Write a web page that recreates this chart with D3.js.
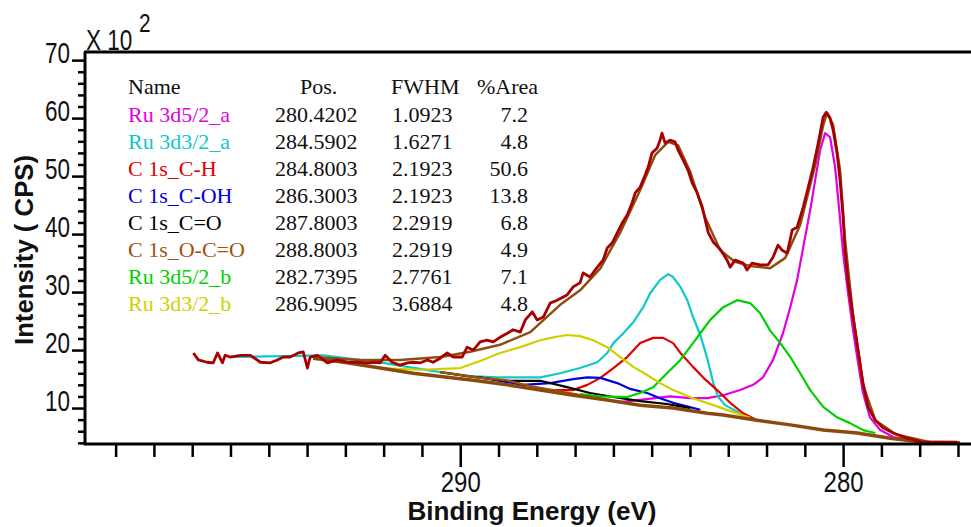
<!DOCTYPE html>
<html>
<head>
<meta charset="utf-8">
<script src="https://cdn.jsdelivr.net/npm/d3@7"></script>
<style>
  body { margin: 0; background: #fff; }
  svg { display: block; }
</style>
</head>
<body>
<script>
(function () {
  'use strict'

  // peak table
  const peakNames = ['Ru 3d5/2_a', 'Ru 3d3/2_a', 'C 1s_C-H', 'C 1s_C-OH', 'C 1s_C=O', 'C 1s_O-C=O', 'Ru 3d5/2_b', 'Ru 3d3/2_b']
  const peakPos = ['280.4202', '284.5902', '284.8003', '286.3003', '287.8003', '288.8003', '282.7395', '286.9095']
  const peakFwhm = ['1.0923', '1.6271', '2.1923', '2.1923', '2.2919', '2.2919', '2.7761', '3.6884']
  const peakArea = ['7.2', '4.8', '50.6', '13.8', '6.8', '4.9', '7.1', '4.8']

  const xMajorTicks = [290, 280]
  const yMajorTicks = [10, 20, 30, 40, 50, 60, 70]

  // [binding energy (eV), intensity (x 10^2 CPS)]
  const rawData = [
    [296.97, 19.5], [296.84, 18.3], [296.61, 17.9], [296.45, 17.8], [296.34, 19.5], [296.21, 17.8],
    [296.14, 19.1], [296.01, 18.8], [295.74, 19.1], [295.48, 19.1], [295.22, 17.9], [294.96, 17.8],
    [294.78, 18.3], [294.62, 18.8], [294.44, 18.8], [294.23, 19.5], [294.10, 19.7], [293.99, 16.9],
    [293.92, 18.8], [293.73, 19.1], [293.47, 17.8], [293.21, 18.3], [292.95, 17.9], [292.69, 17.9],
    [292.43, 17.8], [292.22, 17.9], [292.09, 17.8], [291.96, 19.1], [291.78, 17.9], [291.57, 17.4],
    [291.38, 17.8], [291.23, 17.9], [291.04, 17.8], [290.86, 18.3], [290.71, 17.9], [290.52, 18.6],
    [290.34, 19.5], [290.18, 18.8], [289.95, 18.8], [289.82, 20.5], [289.66, 20.0], [289.48, 21.4],
    [289.30, 21.7], [289.14, 21.4], [288.96, 22.2], [288.77, 22.9], [288.62, 23.5], [288.43, 23.1],
    [288.30, 25.2], [288.12, 26.6], [287.99, 25.2], [287.83, 25.7], [287.65, 28.1], [287.47, 28.6],
    [287.21, 29.5], [287.05, 30.9], [286.87, 31.6], [286.79, 33.3], [286.61, 32.6], [286.42, 34.3],
    [286.27, 35.5], [286.16, 37.6], [286.03, 38.5], [285.90, 40.2], [285.77, 41.9], [285.64, 43.3],
    [285.51, 45.4], [285.43, 47.1], [285.30, 48.1], [285.17, 50.2], [285.09, 51.6], [284.99, 54.0],
    [284.86, 54.8], [284.78, 56.2], [284.73, 57.4], [284.65, 55.7], [284.52, 56.2], [284.39, 55.9],
    [284.31, 54.5], [284.18, 52.8], [284.05, 51.0], [283.94, 48.8], [283.81, 47.1], [283.68, 44.7],
    [283.60, 42.4], [283.52, 40.2], [283.39, 38.6], [283.21, 37.4], [283.03, 35.5], [282.95, 34.3],
    [282.82, 35.5], [282.61, 35.0], [282.51, 33.8], [282.38, 35.0], [282.17, 34.7], [281.96, 34.7],
    [281.83, 36.0], [281.70, 38.1], [281.59, 37.2], [281.46, 36.7], [281.33, 40.7], [281.20, 41.2],
    [281.04, 44.7], [280.91, 48.1], [280.78, 51.6], [280.65, 55.7], [280.52, 60.2], [280.44, 61.0],
    [280.34, 60.0], [280.26, 57.9], [280.16, 54.0], [280.08, 49.3], [280.00, 42.9], [279.95, 37.2],
    [279.87, 31.6], [279.74, 25.7], [279.61, 20.0], [279.48, 14.3], [279.35, 10.2], [279.16, 7.9],
    [278.96, 6.6], [278.69, 5.7], [278.33, 4.8], [277.91, 4.1], [277.39, 4.1], [277.02, 4.1]
  ]

  const envelope = [
    [293.84, 18.8], [292.61, 18.3], [291.57, 18.3], [290.52, 18.8],
    [289.74, 19.7], [288.96, 20.9], [288.17, 23.1], [287.39, 27.8], [286.87, 30.3], [286.34, 34.1],
    [285.82, 40.3], [285.30, 47.6], [284.91, 53.6], [284.57, 55.9], [284.31, 55.3], [283.99, 50.7],
    [283.60, 42.8], [283.21, 37.2], [282.82, 35.2], [282.43, 34.5], [281.91, 34.1], [281.51, 35.9],
    [281.12, 41.6], [280.73, 51.9], [280.52, 58.8], [280.42, 60.9], [280.26, 58.8], [280.08, 51.0],
    [279.95, 39.0], [279.74, 26.0], [279.48, 14.0], [279.16, 7.9], [278.64, 5.5], [277.73, 4.1]
  ]

  const background = [
    [293.84, 18.6], [293.47, 18.3], [292.95, 17.8], [292.09, 16.9], [291.23, 16.0],
    [290.34, 15.3], [289.66, 14.8], [288.77, 14.0], [287.91, 13.1], [287.05, 12.2], [286.16, 11.4],
    [285.30, 10.5], [284.44, 10.0], [283.55, 9.1], [283.13, 8.8], [282.25, 7.9], [281.38, 7.1],
    [280.52, 6.2], [279.63, 5.7], [278.77, 4.8], [277.91, 4.1], [276.95, 4.0]
  ]

  const ru3d52a = [
    [285.90, 11.0], [285.30, 11.4], [284.52, 12.0], [283.99, 11.7], [283.55, 11.7],
    [283.13, 12.2], [282.69, 13.1], [282.35, 14.0], [282.09, 15.3], [281.83, 18.3], [281.57, 22.9],
    [281.38, 27.4], [281.20, 32.1], [281.04, 37.8], [280.86, 44.1], [280.73, 49.3], [280.60, 54.5],
    [280.47, 57.4], [280.34, 56.7], [280.21, 51.6], [280.10, 44.1], [280.00, 36.7], [279.87, 29.8],
    [279.74, 23.4], [279.61, 17.8], [279.48, 12.6], [279.30, 8.4], [279.03, 6.2], [278.69, 5.0],
    [278.25, 4.5]
  ]
  const ru3d32a = [
    [296.01, 18.8], [293.58, 19.1], [292.01, 17.8], [291.38, 17.1], [290.52, 16.2], [289.74, 15.5],
    [289.03, 15.3], [288.36, 15.3], [287.91, 15.3], [287.39, 16.0], [286.87, 16.9], [286.42, 17.9],
    [286.16, 19.5], [286.00, 21.2], [285.74, 22.9], [285.48, 24.8], [285.22, 27.4], [285.04, 29.8],
    [284.78, 32.1], [284.57, 33.1], [284.44, 32.6], [284.25, 30.9], [284.07, 28.6], [283.92, 25.7],
    [283.73, 22.6], [283.55, 18.6], [283.39, 14.3], [283.26, 11.9], [283.08, 10.5], [282.69, 9.1],
    [282.25, 7.9]
  ]
  const c1sCH = [
    [287.91, 13.1], [287.05, 13.1], [286.68, 14.0], [286.34, 15.2], [286.00, 16.9], [285.64, 18.8],
    [285.30, 21.2], [284.96, 22.1], [284.70, 22.1], [284.44, 21.2], [284.25, 19.5], [283.92, 17.1],
    [283.66, 15.3], [283.29, 13.1], [282.95, 10.9], [282.61, 9.1], [282.25, 7.9]
  ]
  const c1sCOH = [
    [289.48, 15.3], [288.36, 14.0], [287.65, 14.3], [287.05, 15.0], [286.68, 15.3], [286.34, 15.2],
    [285.90, 14.3], [285.56, 13.3], [285.12, 12.6], [284.78, 11.7], [284.44, 10.9], [283.73, 9.7]
  ]
  const c1sCO = [
    [290.52, 16.2], [289.82, 15.5], [288.77, 14.7], [287.91, 14.7], [287.21, 13.6], [286.61, 12.6],
    [286.00, 11.9], [285.30, 11.2], [284.60, 10.7], [283.99, 10.0]
  ]
  const c1sOCO = [
    [290.52, 16.2], [289.48, 15.2], [288.80, 14.8], [288.17, 13.8], [287.39, 12.9], [286.34, 11.6]
  ]
  const ru3d52b = [
    [286.87, 12.4], [286.34, 12.0], [285.64, 11.9], [285.30, 12.6], [284.96, 13.6], [284.60, 16.0],
    [284.25, 18.3], [283.92, 21.2], [283.73, 22.9], [283.47, 25.2], [283.13, 27.4], [282.77, 28.6],
    [282.43, 28.1], [282.17, 26.4], [281.91, 23.4], [281.64, 21.2], [281.38, 18.8], [281.12, 16.0],
    [280.86, 13.1], [280.52, 10.2], [280.16, 8.4], [279.82, 7.4], [279.48, 6.2], [279.16, 5.7]
  ]
  const ru3d32b = [
    [292.09, 16.9], [291.04, 16.6], [290.00, 16.9], [289.48, 18.1], [288.96, 19.5], [288.43, 20.5],
    [287.91, 21.7], [287.57, 22.2], [287.21, 22.6], [286.87, 22.4], [286.53, 21.7], [286.16, 20.5],
    [285.82, 18.8], [285.48, 17.1], [285.12, 15.7], [284.78, 14.3], [284.44, 13.1], [283.92, 11.7],
    [283.39, 10.5], [282.87, 9.3], [282.43, 8.3]
  ]

  const components = [ru3d52a, ru3d32a, c1sCH, c1sCOH, c1sCO, c1sOCO, ru3d52b, ru3d32b]
  const compColors = ['#e000e0', '#10c8c8', '#e00000', '#0000e0', '#000000', '#a0520a', '#00d000', '#d0d000']

  const width = 971
  const height = 527

  const x = d3.scaleLinear().domain([299.8, 276.66]).range([85, 971])
  const y = d3.scaleLinear().domain([3.8, 71.4]).range([444, 52])

  const svg = d3.select('body').append('svg')
    .attr('width', width)
    .attr('height', height)

  const line = d3.line()
    .x(d => x(d[0]))
    .y(d => y(d[1]))

  // components
  svg.selectAll('path.comp')
    .data(components)
    .enter().append('path')
    .attr('class', 'comp')
    .attr('d', line)
    .attr('fill', 'none')
    .attr('stroke', (d, i) => compColors[i])
    .attr('stroke-width', 2.2)
    .attr('stroke-linejoin', 'round')

  svg.append('path')
    .attr('d', line(background))
    .attr('fill', 'none')
    .attr('stroke', '#8b4a0c')
    .attr('stroke-width', 3.5)

  svg.append('path')
    .attr('d', line(envelope))
    .attr('fill', 'none')
    .attr('stroke', '#8b4f14')
    .attr('stroke-width', 2.5)
    .attr('stroke-linejoin', 'round')

  svg.append('path')
    .attr('d', line(rawData))
    .attr('fill', 'none')
    .attr('stroke', '#a80000')
    .attr('stroke-width', 2.8)
    .attr('stroke-linejoin', 'round')

  // x axis ticks
  const xMinor = svg.append('g')
    .attr('transform', 'translate(0, 444)')
    .call(d3.axisBottom(x).tickValues(d3.range(277, 300).filter(v => v % 10 !== 0)).tickSize(13).tickFormat(''))
  const xMajor = svg.append('g')
    .attr('transform', 'translate(0, 444)')
    .call(d3.axisBottom(x).tickValues(xMajorTicks).tickSize(23).tickFormat(d3.format('d')))
  xMajor.selectAll('text')
    .attr('y', 48)
    .attr('dy', null)
    .attr('textLength', 40)
    .attr('lengthAdjust', 'spacingAndGlyphs')

  // y axis ticks
  const yMinor = svg.append('g')
    .attr('transform', 'translate(85, 0)')
    .call(d3.axisLeft(y).tickValues(d3.range(4, 71, 2).filter(v => v % 10 !== 0)).tickSize(7).tickFormat(''))
  const yMajor = svg.append('g')
    .attr('transform', 'translate(85, 0)')
    .call(d3.axisLeft(y).tickValues(yMajorTicks).tickSize(13).tickFormat(d3.format('d')))
  yMajor.selectAll('text')
    .attr('x', -15)
    .attr('y', 2)
    .attr('dy', null)
    .attr('textLength', 25)
    .attr('lengthAdjust', 'spacingAndGlyphs')

  ;[xMinor, xMajor, yMinor, yMajor].forEach(g => {
    g.select('.domain').remove()
    g.selectAll('line').attr('stroke', '#000').attr('stroke-width', 2.5)
    g.selectAll('text')
      .attr('font-family', 'Liberation Sans, Arial, sans-serif')
      .attr('font-size', 30)
      .attr('fill', '#111')
  })

  // frame lines
  svg.append('path')
    .attr('d', `M85,${y.range()[1]}V444H971M84,52H971`)
    .attr('fill', 'none')
    .attr('stroke', '#000')
    .attr('stroke-width', 3)

  // multiplier, squeezed like the narrow axis font
  svg.append('text')
    .attr('transform', 'translate(86, 50) scale(0.75, 1)')
    .attr('font-family', 'Liberation Sans, Arial, sans-serif')
    .attr('font-size', 30)
    .attr('fill', '#111')
    .text('X 10')
  svg.append('text')
    .attr('transform', 'translate(139, 32) scale(0.8, 1)')
    .attr('font-family', 'Liberation Sans, Arial, sans-serif')
    .attr('font-size', 26)
    .attr('fill', '#111')
    .text('2')

  // axis titles
  svg.append('text')
    .attr('x', 532)
    .attr('y', 520)
    .attr('text-anchor', 'middle')
    .attr('font-family', 'Liberation Sans, Arial, sans-serif')
    .attr('font-weight', 'bold')
    .attr('font-size', 26)
    .attr('textLength', 249)
    .attr('lengthAdjust', 'spacingAndGlyphs')
    .attr('fill', '#111')
    .text('Binding Energy (eV)')
  svg.append('text')
    .attr('transform', 'translate(33, 250) rotate(-90)')
    .attr('text-anchor', 'middle')
    .attr('font-family', 'Liberation Sans, Arial, sans-serif')
    .attr('font-weight', 'bold')
    .attr('font-size', 25)
    .attr('textLength', 190)
    .attr('lengthAdjust', 'spacingAndGlyphs')
    .attr('fill', '#111')
    .text('Intensity ( CPS)')

  // peak table
  const table = svg.append('g')
    .attr('font-family', 'Liberation Serif, Times New Roman, serif')
    .attr('font-size', 22)
    .attr('fill', '#111')
  const header = [['Name', 128], ['Pos.', 300], ['FWHM', 391], ['%Area', 477]]
  table.selectAll('text.head')
    .data(header)
    .enter().append('text')
    .attr('class', 'head')
    .attr('x', d => d[1])
    .attr('y', 94)
    .text(d => d[0])

  const rows = table.selectAll('g.row')
    .data(peakNames)
    .enter().append('g')
    .attr('class', 'row')
    .attr('transform', (d, i) => `translate(0, ${122 + i * 27})`)
  rows.append('text')
    .attr('x', 128)
    .attr('fill', (d, i) => compColors[i])
    .text(d => d)
  rows.append('text')
    .attr('x', 275)
    .text((d, i) => peakPos[i])
  rows.append('text')
    .attr('x', 392)
    .text((d, i) => peakFwhm[i])
  rows.append('text')
    .attr('x', 528)
    .attr('text-anchor', 'end')
    .text((d, i) => peakArea[i])
})()
</script>
</body>
</html>
